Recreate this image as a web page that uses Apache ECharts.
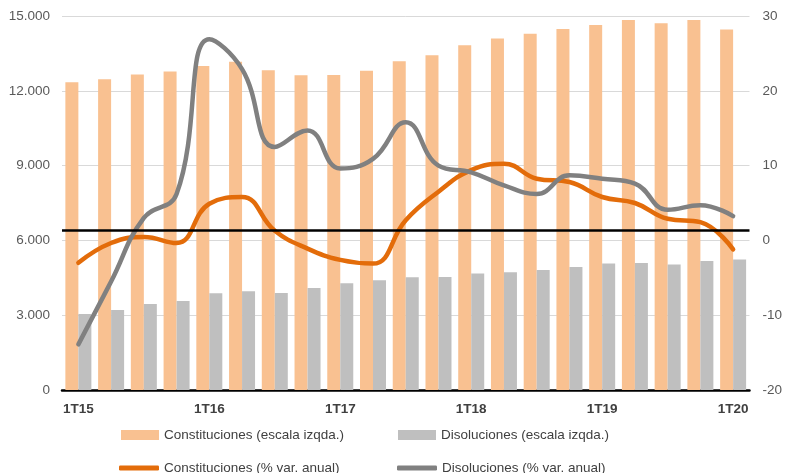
<!DOCTYPE html>
<html lang="es">
<head>
    <meta charset="UTF-8">
    <title>Constituciones y disoluciones</title>
    <script src="https://cdn.jsdelivr.net/npm/echarts@6.0.0/dist/echarts.min.js"></script>
    <style>
        html, body { margin: 0; padding: 0; background: #fff; }
    </style>
</head>
<body>
    <div id="chart" style="width: 785px; height: 473px;"></div>

    <script>
        // trimestres
        const quarters = [
            '1T15', '2T15', '3T15', '4T15',
            '1T16', '2T16', '3T16', '4T16',
            '1T17', '2T17', '3T17', '4T17',
            '1T18', '2T18', '3T18', '4T18',
            '1T19', '2T19', '3T19', '4T19',
            '1T20'
        ];
        // número de sociedades (escala izqda.)
        const constituciones = [12340, 12460, 12650, 12770, 12990, 13170, 12820, 12620, 12630, 12800,
            13190, 13430, 13830, 14100, 14290, 14480, 14640, 14840, 14710, 14840, 14460];
        const disoluciones = [3050, 3210, 3450, 3570, 3880, 3960, 3890, 4090, 4280, 4400,
            4520, 4530, 4670, 4720, 4810, 4930, 5070, 5090, 5030, 5170, 5230];
        // % var. anual (escala dcha.)
        const constVar = [-3.0, -0.35, 0.45, -0.35, 4.9, 5.8, 1.3, -1.1, -2.6, -3.1,
            2.7, 6.5, 9.4, 10.25, 8.25, 7.8, 5.8, 5.0, 2.9, 2.45, -1.2];
        const disolVar = [-13.9, -5.5, 3.0, 6.2, 26.9, 22.9, 12.5, 14.7, 9.6, 10.9,
            15.8, 10.0, 9.1, 7.35, 6.2, 8.7, 8.25, 7.6, 4.1, 4.7, 3.25];
        const refLine = 1.3;

        const font = 'Liberation Sans, Arial, sans-serif';
        const chart = echarts.init(document.getElementById('chart'));

        function legendBox(name, left, top, icon, w, h) {
            return {
                data: [name],
                left: left,
                top: top,
                icon: icon,
                itemWidth: w,
                itemHeight: h,
                padding: 0,
                selectedMode: false,
                textStyle: { fontFamily: font, fontSize: 13.5, color: '#404040' }
            };
        }

        const option = {
            animation: false,
            textStyle: { fontFamily: font },
            grid: { left: 62, right: 33, top: 16, bottom: 83 },
            legend: [
                legendBox('Constituciones (escala izqda.)', 121, 428, 'rect', 38, 10),
                legendBox('Disoluciones (escala izqda.)', 398, 428, 'rect', 38, 10),
                legendBox('Constituciones (% var. anual)', 119, 461, 'roundRect', 40, 5),
                legendBox('Disoluciones (% var. anual)', 397, 461, 'roundRect', 40, 5)
            ],
            xAxis: {
                type: 'category',
                data: quarters,
                axisLine: { lineStyle: { color: '#000', width: 2.5 } },
                axisTick: { show: false },
                axisLabel: {
                    interval: 3,
                    margin: 12,
                    fontSize: 13.5,
                    fontWeight: 'bold',
                    color: '#404040'
                }
            },
            yAxis: [
                {
                    type: 'value',
                    min: 0,
                    max: 15000,
                    interval: 3000,
                    axisLine: { show: false },
                    axisTick: { show: false },
                    splitLine: { lineStyle: { color: '#d9d9d9' } },
                    axisLabel: {
                        margin: 12,
                        fontSize: 13.5,
                        color: '#595959',
                        formatter: v => v === 0 ? '0' : (v / 1000).toFixed(3)
                    }
                },
                {
                    type: 'value',
                    min: -20,
                    max: 30,
                    interval: 10,
                    axisLine: { show: false },
                    axisTick: { show: false },
                    splitLine: { show: false },
                    axisLabel: { margin: 13, fontSize: 13.5, color: '#595959' }
                }
            ],
            series: [
                {
                    name: 'Constituciones (escala izqda.)',
                    type: 'bar',
                    data: constituciones,
                    barWidth: 13,
                    barGap: '0%',
                    itemStyle: { color: '#f9c191' }
                },
                {
                    name: 'Disoluciones (escala izqda.)',
                    type: 'bar',
                    data: disoluciones,
                    barWidth: 13,
                    itemStyle: { color: '#bfbfbf' }
                },
                {
                    name: 'Constituciones (% var. anual)',
                    type: 'line',
                    yAxisIndex: 1,
                    data: constVar,
                    smooth: 0.45,
                    symbol: 'none',
                    itemStyle: { color: '#e36c0a' },
                    lineStyle: { width: 4.5, color: '#e36c0a', cap: 'round' },
                    z: 3
                },
                {
                    name: 'Disoluciones (% var. anual)',
                    type: 'line',
                    yAxisIndex: 1,
                    data: disolVar,
                    smooth: 0.45,
                    symbol: 'none',
                    itemStyle: { color: '#808080' },
                    lineStyle: { width: 4.5, color: '#808080', cap: 'round' },
                    z: 4,
                    markLine: {
                        silent: true,
                        symbol: 'none',
                        label: { show: false },
                        lineStyle: { color: '#000', width: 2.5, type: 'solid' },
                        data: [{ yAxis: refLine }],
                        z: 10
                    }
                }
            ]
        };

        chart.setOption(option);
    </script>
</body>
</html>
